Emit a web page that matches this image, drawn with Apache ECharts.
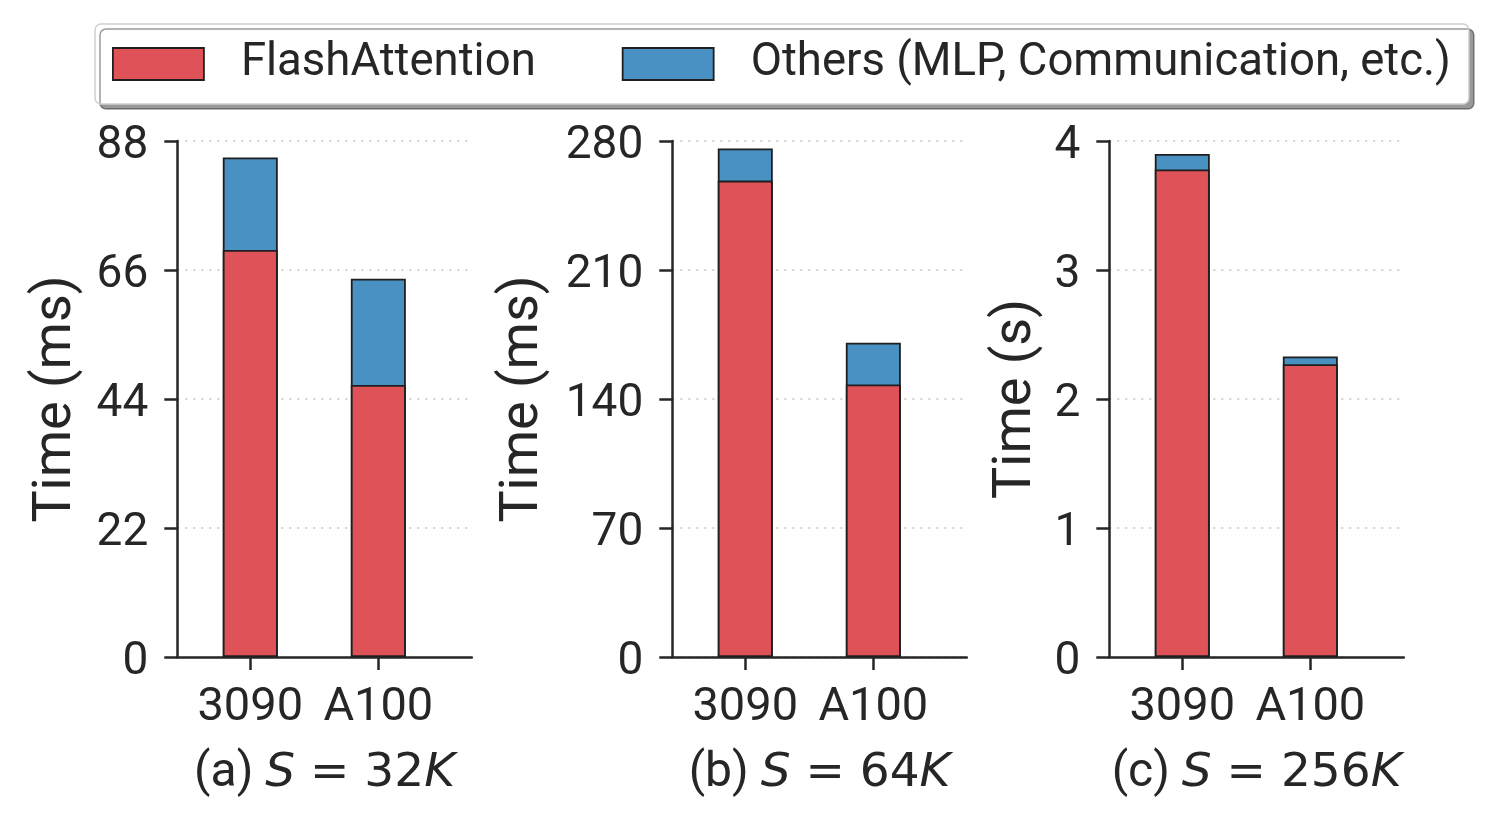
<!DOCTYPE html>
<html><head><meta charset="utf-8">
<script src="https://cdn.jsdelivr.net/npm/echarts@6/dist/echarts.min.js"></script>
<style>html,body{margin:0;padding:0;background:#fff}#c{width:1496px;height:825px}</style>
</head><body><div id="c"></div>
<script>
const categories = ['3090', 'A100'];
const seriesNames = ['FlashAttention', 'Others (MLP, Communication, etc.)'];
// (a) S = 32K, ms
const flashA = [69.4, 46.4];
const othersA = [15.8, 18.1];
// (b) S = 64K, ms
const flashB = [258.5, 147.9];
const othersB = [17.4, 22.6];
// (c) S = 256K, s
const flashC = [3.78, 2.27];
const othersC = [0.12, 0.06];
const yMax = [88, 280, 4];
const yInterval = [22, 70, 1];
const yNames = ['Time (ms)', 'Time (ms)', 'Time (s)'];
const subLabels = ['(a) ', '(b) ', '(c) '];
const subValues = ['32', '64', '256'];

const INK = '#262626';
const FONT = 'Roboto';
const RED = '#DF5257', BLUE = '#4A91C3';
const gridLefts = [177.3, 672.3, 1109.3];
const nameGaps = [94, 122, 66];

const grids = [], xAxes = [], yAxes = [], series = [];
const flash = [flashA, flashB, flashC];
const others = [othersA, othersB, othersC];
for (let i = 0; i < 3; i++) {
  grids.push({ left: gridLefts[i], top: 141, width: 294.5, height: 516, outerBoundsMode: 'none' });
  xAxes.push({
    gridIndex: i, type: 'value', min: -0.57, max: 1.73,
    axisLine: { show: true, onZero: false, lineStyle: { color: INK, width: 2.5 } },
    axisTick: { show: true, length: 13, customValues: [0, 1], lineStyle: { color: INK, width: 2.5 } },
    axisLabel: { customValues: [0, 1], formatter: v => categories[Math.round(v)], fontSize: 47, fontFamily: FONT, color: INK, margin: 28 },
    splitLine: { show: false },
    name: subLabels[i] + '{mi|S}{m| = ' + subValues[i] + '}{mi|K}',
    nameLocation: 'middle', nameGap: 93,
    nameTextStyle: {
      fontSize: 48, fontFamily: FONT, color: INK,
      rich: {
        mi: { fontSize: 47, fontFamily: 'DejaVu Sans', fontStyle: 'italic', color: INK },
        m: { fontSize: 47, fontFamily: 'DejaVu Sans', color: INK }
      }
    }
  });
  yAxes.push({
    gridIndex: i, type: 'value', min: 0, max: yMax[i], interval: yInterval[i],
    axisLine: { show: true, onZero: false, lineStyle: { color: INK, width: 2.5 } },
    axisTick: { show: true, length: 13, lineStyle: { color: INK, width: 2.5 } },
    axisLabel: {
      fontSize: 46, fontFamily: FONT, color: INK, margin: 29,
      formatter: v => '{t|' + v + '}',
      rich: { t: { fontSize: 46, fontFamily: FONT, color: INK, padding: [10, 0, 0, 0] } }
    },
    splitLine: { show: true, lineStyle: { type: [2, 6], color: '#c4c4c4', width: 1.5 } },
    name: yNames[i], nameLocation: 'middle', nameGap: nameGaps[i],
    nameTextStyle: { fontSize: 54, fontFamily: FONT, color: INK }
  });
  // total-height bar (Others sits on top of FlashAttention), drawn underneath
  series.push({
    name: seriesNames[1], type: 'bar', xAxisIndex: i, yAxisIndex: i,
    barWidth: 55, barGap: '-100%', z: 2,
    itemStyle: { color: BLUE, borderColor: '#1f1f1f', borderWidth: 1.8 },
    data: others[i].map((v, k) => [k, flash[i][k] + v])
  });
  series.push({
    name: seriesNames[0], type: 'bar', xAxisIndex: i, yAxisIndex: i,
    barWidth: 55, barGap: '-100%', z: 3,
    itemStyle: { color: RED, borderColor: '#1f1f1f', borderWidth: 1.8 },
    data: flash[i].map((v, k) => [k, v])
  });
}

const chart = echarts.init(document.getElementById('c'), null, { renderer: 'canvas' });
chart.setOption({
  animation: false,
  backgroundColor: '#fff',
  legend: {
    data: seriesNames, left: 95, top: 24, padding: [17, 18, 17, 17],
    itemWidth: 91, itemHeight: 32, itemGap: 86, icon: 'rect',
    backgroundColor: '#fff', borderColor: '#d0d0d0', borderWidth: 1.5, borderRadius: 6,
    shadowColor: 'rgba(0,0,0,0.4)', shadowOffsetX: 5, shadowOffsetY: 5, shadowBlur: 0,
    itemStyle: { borderColor: '#1f1f1f', borderWidth: 1.8 },
    textStyle: { fontSize: 45.5, fontFamily: FONT, color: INK, padding: [0, 0, 0, 32] }
  },
  grid: grids, xAxis: xAxes, yAxis: yAxes, series: series
});
</script></body></html>
